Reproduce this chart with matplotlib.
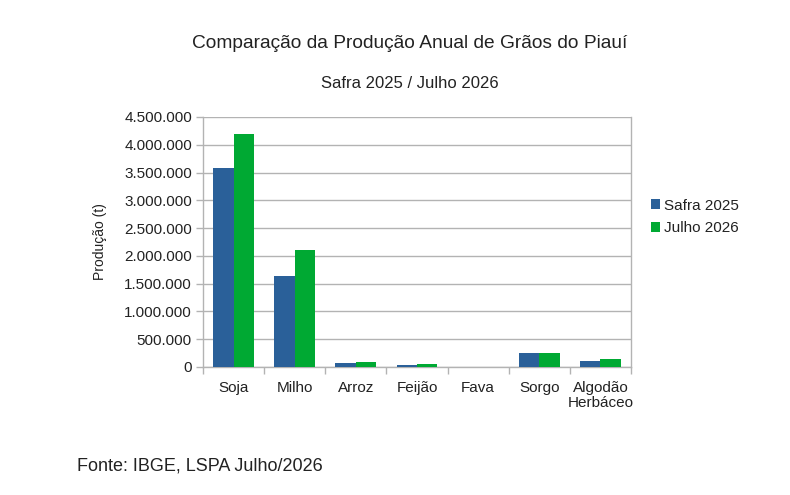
import matplotlib
matplotlib.use("Agg")
import matplotlib.pyplot as plt
import numpy as np
from matplotlib.ticker import FuncFormatter, FixedLocator

plt.rcParams['font.family'] = ['Liberation Sans', 'DejaVu Sans']

categories = ["Soja", "Milho", "Arroz", "Feijão", "Fava", "Sorgo", "Algodão\nHerbáceo"]
safra_2025 = [3580000, 1640000, 65000, 40000, 1500, 257000, 103000]
julho_2026 = [4195000, 2105000, 90000, 55000, 1800, 246000, 144000]
series_names = ["Safra 2025", "Julho 2026"]
yticks = [0, 500000, 1000000, 1500000, 2000000, 2500000, 3000000, 3500000, 4000000, 4500000]

blue = "#2a6099"
green = "#00a933"
grid_c = "#b3b3b3"
text_c = "#222222"

fig = plt.figure(figsize=(7.9, 4.95), dpi=100)
ax = fig.add_axes([203/790, 1-367/495, (631-203)/790, (367-117)/495])

x = np.arange(len(categories))
w = 0.335
ax.bar(x - w/2, safra_2025, width=w, color=blue, label=series_names[0], zorder=3)
ax.bar(x + w/2, julho_2026, width=w, color=green, label=series_names[1], zorder=3)

ax.set_xlim(-0.5, len(categories) - 0.5)
ax.set_ylim(0, 4500000)
ax.set_yticks(yticks)
ax.yaxis.set_major_formatter(FuncFormatter(lambda v, p: f"{int(v):,}".replace(",", ".")))
ax.set_xticks(x)
ax.set_xticklabels(categories, linespacing=1.1)
ax.xaxis.set_minor_locator(FixedLocator(np.arange(-0.5, len(categories) + 0.5, 1)))
ax.tick_params(axis='x', which='major', length=0, pad=10, labelsize=11, labelcolor=text_c)
ax.tick_params(axis='x', which='minor', length=5, color=grid_c, width=1)
ax.tick_params(axis='y', which='major', length=5, color=grid_c, width=1, pad=3, labelsize=11, labelcolor=text_c)
ax.grid(axis='y', color=grid_c, linewidth=1, zorder=0)
for s in ['left', 'right', 'bottom']:
    ax.spines[s].set_color(grid_c)
    ax.spines[s].set_linewidth(1)
ax.spines['top'].set_visible(False)
ax.set_ylabel("Produção (t)", fontsize=10, color=text_c, labelpad=12)

leg = ax.legend(loc='center left', bbox_to_anchor=(651/790, 1-217/495), bbox_transform=fig.transFigure,
                frameon=False, fontsize=11, borderpad=0, borderaxespad=0,
                handlelength=0.6, handleheight=0.6, handletextpad=0.25, labelspacing=0.58,
                labelcolor=text_c)

fig.text(410/790, 1-43/495, "Comparação da Produção Anual de Grãos do Piauí", ha='center', va='center',
         fontsize=13.8, color=text_c)
fig.text(410/790, 1-83/495, "Safra 2025 / Julho 2026", ha='center', va='center', fontsize=12, color=text_c)
fig.text(77/790, 1-466/495, "Fonte: IBGE, LSPA Julho/2026", ha='left', va='center', fontsize=13, color=text_c)

fig.savefig("out.png", dpi=100)
